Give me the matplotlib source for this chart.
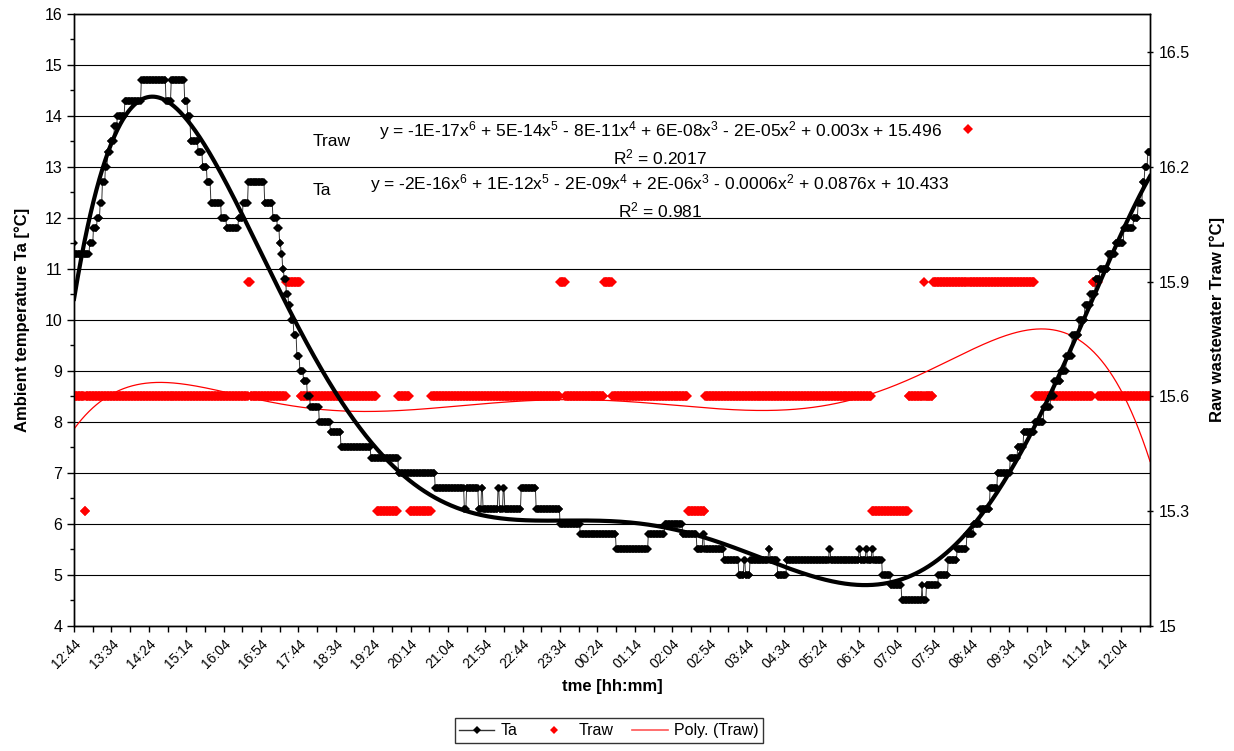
import numpy as np
from matplotlib import pyplot as plt
from matplotlib.lines import Line2D
from matplotlib.ticker import FixedLocator, MultipleLocator, NullFormatter

plt.rcParams['font.family'] = ['Liberation Sans', 'DejaVu Sans']
plt.rcParams['mathtext.fontset'] = 'custom'
plt.rcParams['mathtext.rm'] = 'Liberation Sans'
plt.rcParams['mathtext.it'] = 'Liberation Sans:italic'

##########################################################################
#   Data (one reading per minute, 12:44 -> 12:43 next day)
##########################################################################

n_minutes = 1440

# Ta: minute where a level starts, and the level [°C]
ta_start = [0, 1, 21, 26, 31, 35, 38, 42, 45, 49, 54, 58, 68, 90, 123, 130,
            148, 152, 156, 166, 172, 178, 183, 197, 204, 220, 226, 233, 255,
            266, 272, 275, 277, 279, 281, 284, 287, 290, 294, 298, 302, 307,
            312, 316, 328, 343, 357, 397, 434, 483, 522, 525, 541, 545, 547,
            567, 569, 574, 576, 598, 618, 650, 677, 725, 768, 790, 814, 833,
            841, 843, 869, 889, 896, 898, 904, 929, 931, 941, 953, 1010, 1012,
            1050, 1052, 1059, 1061, 1067, 1069, 1081, 1092, 1107, 1134, 1135,
            1140, 1156, 1169, 1181, 1194, 1203, 1212, 1225, 1235, 1252, 1262,
            1270, 1285, 1297, 1306, 1311, 1320, 1327, 1335, 1344, 1352, 1359,
            1366, 1372, 1383, 1393, 1404, 1417, 1423, 1429, 1432, 1436]
ta_value = [11.5, 11.3, 11.5, 11.8, 12.0, 12.3, 12.7, 13.0, 13.3, 13.5, 13.8,
            14.0, 14.3, 14.7, 14.3, 14.7, 14.3, 14.0, 13.5, 13.3, 13.0, 12.7,
            12.3, 12.0, 11.8, 12.0, 12.3, 12.7, 12.3, 12.0, 11.8, 11.5, 11.3,
            11.0, 10.8, 10.5, 10.3, 10.0, 9.7, 9.3, 9.0, 8.8, 8.5, 8.3, 8.0,
            7.8, 7.5, 7.3, 7.0, 6.7, 6.3, 6.7, 6.3, 6.7, 6.3, 6.7, 6.3, 6.7,
            6.3, 6.7, 6.3, 6.0, 5.8, 5.5, 5.8, 6.0, 5.8, 5.5, 5.8, 5.5, 5.3,
            5.0, 5.3, 5.0, 5.3, 5.5, 5.3, 5.0, 5.3, 5.5, 5.3, 5.5, 5.3, 5.5,
            5.3, 5.5, 5.3, 5.0, 4.8, 4.5, 4.8, 4.5, 4.8, 5.0, 5.3, 5.5, 5.8,
            6.0, 6.3, 6.7, 7.0, 7.3, 7.5, 7.8, 8.0, 8.3, 8.5, 8.8, 9.0, 9.3,
            9.7, 10.0, 10.3, 10.5, 10.8, 11.0, 11.3, 11.5, 11.8, 12.0, 12.3,
            12.7, 13.0, 13.3]

# Traw: minute where a level starts, and the level [°C]
traw_start = [0, 14, 16, 233, 236, 284, 303, 405, 433, 449, 478, 650, 657,
              709, 720, 821, 844, 1067, 1116, 1137, 1138, 1149, 1195, 1196,
              1285, 1362, 1370]
traw_value = [15.6, 15.3, 15.6, 15.9, 15.6, 15.9, 15.6, 15.3, 15.6, 15.3,
              15.6, 15.9, 15.6, 15.9, 15.6, 15.3, 15.6, 15.3, 15.6, 15.9,
              15.6, 15.9, 16.3, 15.9, 15.6, 15.9, 15.6]

# category labels, every 50 minutes
time_labels = ['12:44', '13:34', '14:24', '15:14', '16:04', '16:54', '17:44',
               '18:34', '19:24', '20:14', '21:04', '21:54', '22:44', '23:34',
               '00:24', '01:14', '02:04', '02:54', '03:44', '04:34', '05:24',
               '06:14', '07:04', '07:54', '08:44', '09:34', '10:24', '11:14',
               '12:04']

eq_traw = (r'y = -1E-17x$^6$ + 5E-14x$^5$ - 8E-11x$^4$ + 6E-08x$^3$'
           r' - 2E-05x$^2$ + 0.003x + 15.496')
r2_traw = r'R$^2$ = 0.2017'
eq_ta = (r'y = -2E-16x$^6$ + 1E-12x$^5$ - 2E-09x$^4$ + 2E-06x$^3$'
         r' - 0.0006x$^2$ + 0.0876x + 10.433')
r2_ta = r'R$^2$ = 0.981'

##########################################################################
#   Series
##########################################################################

minute = np.arange(n_minutes)
ta = np.repeat(ta_value, np.diff(ta_start + [n_minutes]))
traw = np.repeat(traw_value, np.diff(traw_start + [n_minutes]))

# 6th order trendlines, x = 1..N like the spreadsheet
xfit = minute + 1
ta_poly = np.polynomial.Polynomial.fit(xfit, ta, 6)(xfit)
traw_poly = np.polynomial.Polynomial.fit(xfit, traw, 6)(xfit)

##########################################################################
#   Plot
##########################################################################

fig = plt.figure(figsize=(12.34, 7.51), dpi=100)
ax = fig.add_axes([0.060, 0.1665, 0.872, 0.815])
ax2 = ax.twinx()

ax.set_xlim(0, n_minutes - 1)
ax.set_ylim(4, 16)
ax2.set_ylim(15, 16.6)

ax.yaxis.set_major_locator(MultipleLocator(1))
ax.yaxis.set_minor_locator(MultipleLocator(0.5))
ax.yaxis.grid(True, which='major', color='black', lw=0.8)
ax.set_axisbelow(True)
ax2.set_yticks([15, 15.3, 15.6, 15.9, 16.2, 16.5])
ax2.set_yticklabels(['15', '15.3', '15.6', '15.9', '16.2', '16.5'])

ax.xaxis.set_major_locator(FixedLocator(np.arange(0, n_minutes, 50)))
ax.xaxis.set_minor_locator(FixedLocator(np.arange(25, n_minutes, 50)))
ax.set_xticklabels(time_labels, rotation=45, ha='right',
                   rotation_mode='anchor', fontsize=10)
ax.xaxis.set_minor_formatter(NullFormatter())

ax.tick_params(axis='y', labelsize=11.5, length=5, width=1)
ax.tick_params(axis='y', which='minor', length=3, width=1)
ax.tick_params(axis='x', which='both', length=4, width=1)
ax2.tick_params(axis='y', labelsize=11.5, length=5, width=1, direction='inout')

for a in (ax, ax2):
    for s in a.spines.values():
        s.set_color('black')
        s.set_linewidth(1)

# Traw on secondary axis
ax2.plot(minute, traw, ls='none', marker='D', ms=5.3, mew=0, color='red')
ax2.plot(minute, traw_poly, color='red', lw=0.9)
# Ta drawn above the secondary series, in primary-axis units
ax2.plot(minute, ta, color='#333333', lw=0.7, marker='D', ms=4.3,
         mew=0, mfc='black', transform=ax.transData)
ax2.plot(minute, ta_poly, color='black', lw=3.0, transform=ax.transData)

ax.set_ylabel('Ambient temperature Ta [°C]', fontsize=12,
              fontweight='bold', labelpad=10)
ax2.set_ylabel('Raw wastewater Traw [°C]', fontsize=12,
               fontweight='bold', labelpad=14)
ax.set_xlabel('tme [hh:mm]', fontsize=12, fontweight='bold', labelpad=6)

# trendline labels
fs = 12.5
fig.text(0.269, 0.811, 'Traw', fontsize=fs, ha='center', va='center')
fig.text(0.535, 0.826, eq_traw, fontsize=fs, ha='center', va='center')
fig.text(0.535, 0.791, r2_traw, fontsize=fs, ha='center', va='center')
fig.text(0.261, 0.747, 'Ta', fontsize=fs, ha='center', va='center')
fig.text(0.535, 0.756, eq_ta, fontsize=fs, ha='center', va='center')
fig.text(0.535, 0.720, r2_ta, fontsize=fs, ha='center', va='center')

handles = [
    Line2D([], [], color='#333333', lw=1, marker='D', ms=4.5,
           mfc='black', mew=0),
    Line2D([], [], ls='none', marker='D', ms=4.5, color='red', mew=0),
    Line2D([], [], color='#ff5555', lw=1.2),
]
leg = fig.legend(handles, ['Ta', 'Traw', 'Poly. (Traw)'], loc='lower center',
                 bbox_to_anchor=(0.4935, 0.0), ncol=3, fontsize=11.5,
                 frameon=True, fancybox=False, edgecolor='black',
                 handlelength=2.2, columnspacing=1.2, borderpad=0.3,
                 handletextpad=0.4)
leg.get_frame().set_linewidth(1)

fig.savefig('out.png', dpi=100)
